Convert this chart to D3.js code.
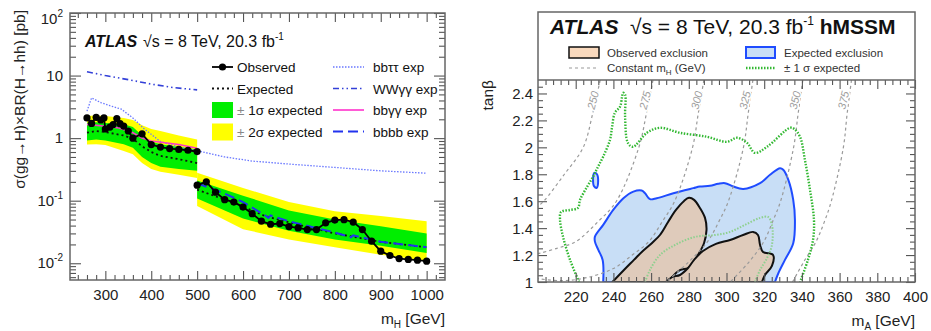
<!DOCTYPE html>
<html>
<head>
<meta charset="utf-8">
<script src="https://cdn.jsdelivr.net/npm/d3@7"></script>
<style>
  body { margin: 0; background: #fff; }
  svg text { font-family: "Liberation Sans", Arial, Helvetica, sans-serif; }
</style>
</head>
<body>
<svg id="chart" width="931" height="331"></svg>
<script>
// ---------- left panel: limits on sigma x BR (pb) vs m_H ----------
const lowMass  = [260, 280, 300, 340, 360, 380, 400, 420, 460, 500];
const lowExp   = [1.22, 1.3, 1.25, 1.1, 0.98, 0.74, 0.6, 0.52, 0.46, 0.4];
const low1sLo  = [0.92, 0.95, 0.92, 0.8, 0.7, 0.5, 0.4, 0.35, 0.32, 0.3];
const low1sHi  = [1.76, 1.8, 1.75, 1.66, 1.5, 1.1, 0.88, 0.8, 0.72, 0.66];
const low2sLo  = [0.79, 0.8, 0.78, 0.62, 0.55, 0.4, 0.32, 0.29, 0.26, 0.23];
const low2sHi  = [2.25, 2.3, 2.25, 2.1, 1.95, 1.6, 1.4, 1.3, 1.1, 0.95];

const highMass = [500, 600, 700, 800, 900, 1000];
const high1sLo = [0.108, 0.052, 0.033, 0.024, 0.019, 0.0146];
const high1sHi = [0.21, 0.12, 0.07, 0.05, 0.039, 0.03];
const high2sLo = [0.082, 0.035, 0.024, 0.018, 0.0137, 0.011];
const high2sHi = [0.28, 0.16, 0.095, 0.068, 0.057, 0.047];
const highExpMass = [500, 560, 600, 650, 700, 800, 900, 1000];
const highExp     = [0.15, 0.104, 0.08, 0.056, 0.045, 0.03, 0.022, 0.018];

const obsLowMass = [260, 270, 280, 290, 297, 300, 310, 317, 325, 332, 340, 350, 360, 380, 400, 420, 440, 460, 480, 500];
const obsLow     = [2.1, 1.72, 2.15, 1.95, 2.1, 1.4, 1.5, 1.65, 2.05, 1.7, 1.56, 1.3, 1.0, 1.17, 0.79, 0.72, 0.68, 0.66, 0.64, 0.61];
const obsHighMass = [500, 520, 540, 560, 580, 600, 620, 640, 660, 680, 700, 720, 740, 760, 780, 800, 820, 840, 860, 880, 900, 920, 940, 960, 980, 1000];
const obsHigh     = [0.177, 0.2, 0.137, 0.104, 0.095, 0.079, 0.062, 0.047, 0.042, 0.043, 0.0386, 0.0367, 0.0346, 0.0346, 0.0443, 0.049, 0.0497, 0.0455, 0.0346, 0.0225, 0.0156, 0.0133, 0.0119, 0.0115, 0.0112, 0.0108];

const bbttMass = [260, 270, 290, 310, 335, 360, 385, 400, 420, 460, 500, 560, 620, 700, 800, 900, 1000];
const bbtt     = [2.7, 4.4, 3.7, 3.3, 2.9, 2.1, 1.4, 1.15, 0.88, 0.72, 0.63, 0.5, 0.43, 0.385, 0.34, 0.3, 0.275];
const wwggMass = [260, 300, 350, 400, 450, 500];
const wwgg     = [11.5, 10, 8.6, 7.3, 6.4, 5.9];
const bbggMass = [260, 300, 330, 360, 380, 400, 460, 500];
const bbgg     = [1.66, 1.55, 1.45, 1.22, 1.0, 0.9, 0.79, 0.69];
const bbbbMass = [500, 560, 600, 650, 655, 660, 700, 750, 800, 835, 840, 900, 1000];
const bbbb     = [0.19, 0.13, 0.095, 0.057, 0.053, 0.058, 0.047, 0.038, 0.031, 0.026, 0.028, 0.022, 0.018];

const xTicksL = [300, 400, 500, 600, 700, 800, 900, 1000];
const yTicksL = [0.01, 0.1, 1, 10, 100];
const yTickExpL = ["-2", "-1", "", "", "2"];

// ---------- right panel: hMSSM exclusion in (m_A, tan beta) ----------
const expRegion = [[234.6,1.0],[234.3,1.164],[232.0,1.238],[230.2,1.30],[230.2,1.337],[234.6,1.424],[239.9,1.535],
  [245.3,1.622],[250.6,1.671],[255.0,1.679],[256.8,1.659],[259.4,1.615],[263.0,1.622],[271.8,1.659],[282.4,1.697],
  [285.9,1.709],[291.2,1.714],[295.6,1.729],[299.2,1.734],[303.6,1.709],[308.9,1.691],[317.8,1.734],[323.1,1.796],
  [328.4,1.845],[330.1,1.833],[332.8,1.758],[335.4,1.61],[336.3,1.461],[335.4,1.288],[331.0,1.164],[327.5,1.065],[325.7,1.0]];
const expIsland = [[229.2,1.76],[229.9,1.81],[231.3,1.80],[231.9,1.75],[231.2,1.70],[229.8,1.71]];
const obsRegion1 = [[239.5,1.0],[245.6,1.089],[250.9,1.164],[255.2,1.225],[260.5,1.29],[264.7,1.349],[269.0,1.446],
  [273.2,1.535],[277.5,1.602],[280.1,1.625],[282.8,1.61],[285.9,1.55],[288.6,1.476],[289.4,1.387],[288.1,1.29],
  [284.9,1.201],[282.2,1.141],[279.6,1.104],[275.3,1.089],[271.1,1.037],[269.5,1.0]];
const obsRegion2 = [[267.9,1.0],[271.1,1.037],[275.3,1.052],[279.6,1.104],[282.8,1.164],[287.5,1.23],[294.4,1.283],
  [301.9,1.312],[308.8,1.349],[314.1,1.372],[316.7,1.349],[317.8,1.275],[319.4,1.223],[324.7,1.201],[324.1,1.119],
  [320.4,1.052],[318.8,1.0]];
const sigmaOuter = [[221.8,1.0],[217.0,1.164],[213.3,1.335],[211.7,1.461],[212.2,1.52],[217.0,1.535],[221.2,1.55],
  [222.3,1.61],[226.0,1.706],[229.2,1.781],[231.8,1.855],[234.5,1.929],[238.2,2.056],[239.3,2.152],[240.8,2.257],
  [243.5,2.301],[244.6,2.375],[245.1,2.405],[246.2,2.39],[246.2,2.227],[247.7,2.033],[250.4,2.004],[257.8,2.108],
  [264.7,2.145],[275.3,2.108],[289.7,2.078],[300.3,2.041],[305.6,2.071],[310.9,2.033],[315.1,1.959],[321.5,2.004],
  [333.7,2.145],[335.8,2.138],[339.0,2.078],[341.6,1.907],[344.3,1.684],[346.4,1.461],[345.9,1.312],[343.2,1.164],[339.0,1.0]];
const sigmaInner = [[256.8,1.0],[259.4,1.089],[264.7,1.201],[272.7,1.275],[283.3,1.335],[293.9,1.349],[301.9,1.372],
  [309.8,1.424],[317.8,1.476],[322.0,1.483],[324.1,1.424],[324.1,1.275],[321.5,1.178],[317.8,1.089],[315.1,1.0]];

const mHLabels = ["250", "275", "300", "325", "350", "375"];
const mHCurves = [
  [[233,2.5],[229,2.25],[224,2.0],[214,1.8],[203,1.6],[199,1.55]],
  [[261,2.5],[257.5,2.25],[253.5,2.0],[241.6,1.6],[232,1.45],[220,1.3],[210,1.25],[200,1.21]],
  [[288,2.5],[285,2.25],[282,2.0],[272.5,1.6],[266,1.45],[258.8,1.3],[250,1.2],[240,1.1],[225,1.03],[212,1.01],[200,1.025]],
  [[314,2.5],[311.5,2.25],[309,2.0],[301,1.6],[296,1.45],[290,1.3],[280,1.15],[268,1.0]],
  [[340.5,2.5],[338,2.25],[335.6,2.0],[328.7,1.6],[324.5,1.45],[319.8,1.3],[312,1.15],[302,1.0]],
  [[366.3,2.5],[364,2.25],[362,2.0],[355.6,1.6],[352,1.45],[347.5,1.3],[341,1.15],[335,1.0]]
];
const mHLabelPos = [[229.2,2.35],[256.8,2.35],[284.2,2.35],[309.8,2.35],[336.3,2.35],[362,2.35]];

const xTicksR = [220, 240, 260, 280, 300, 320, 340, 360, 380, 400];
const yTicksR = [1, 1.2, 1.4, 1.6, 1.8, 2, 2.2, 2.4];

// ------------------------------------------------------------------
const svg = d3.select("#chart");
svg.append("rect").attr("width", 931).attr("height", 331).attr("fill", "#fff");
const tickCol = "#555";

function addAxis(g, fn, scale, vals, len, tr, fmt, fs) {
  const a = g.append("g").attr("transform", tr)
    .call(fn(scale).tickValues(vals).tickSizeInner(-len).tickSizeOuter(0).tickPadding(5)
      .tickFormat(fmt || (() => "")));
  a.attr("font-family", null).attr("font-size", null);
  a.select(".domain").remove();
  a.selectAll(".tick line").attr("stroke", tickCol).attr("stroke-width", 1.1);
  a.selectAll(".tick text").attr("fill", "#222").attr("font-size", fs || 15);
  return a;
}

// ===== LEFT =====
const L = { x0: 70, x1: 445, y0: 13, y1: 280 };
const xL = d3.scaleLinear().domain([223, 1040]).range([L.x0, L.x1]);
const yL = d3.scaleLog().domain([0.0054, 100]).range([L.y1, L.y0]);
const gL = svg.append("g");

function band(mass, lo, hi, color) {
  const rows = mass.map((m, i) => ({ m, lo: lo[i], hi: hi[i] }));
  gL.append("path").datum(rows).attr("fill", color).attr("stroke", "none")
    .attr("d", d3.area().x(d => xL(d.m)).y0(d => yL(d.lo)).y1(d => yL(d.hi)));
}
band(lowMass, low2sLo, low2sHi, "#ffff00");
band(highMass, high2sLo, high2sHi, "#ffff00");
band(lowMass, low1sLo, low1sHi, "#00ee00");
band(highMass, high1sLo, high1sHi, "#00ee00");

function curveL(mass, vals, color, width, dash) {
  const rows = mass.map((m, i) => [m, vals[i]]);
  return gL.append("path").datum(rows).attr("fill", "none").attr("stroke", color)
    .attr("stroke-width", width).attr("stroke-dasharray", dash)
    .attr("d", d3.line().x(d => xL(d[0])).y(d => yL(d[1])));
}
curveL(lowMass, lowExp, "#111", 1.8, "2,3");
curveL(highExpMass, highExp, "#111", 1.8, "2,3");
curveL(bbttMass, bbtt, "#6a78ff", 1.3, "1.5,1.5");
curveL(wwggMass, wwgg, "#3340d8", 1.6, "6,3,1.5,3,1.5,3");
curveL(bbggMass, bbgg, "#ff33cc", 1.6, null);
curveL(bbbbMass, bbbb, "#2233ee", 2, "10,5");

[[obsLowMass, obsLow], [obsHighMass, obsHigh]].forEach(([ms, vs]) => {
  curveL(ms, vs, "#000", 1.8, null);
  gL.append("g").selectAll("circle").data(ms.map((m, i) => [m, vs[i]])).join("circle")
    .attr("cx", d => xL(d[0])).attr("cy", d => yL(d[1])).attr("r", 3.6).attr("fill", "#000");
});

// axes (ROOT style: ticks inward on all sides)
const minorXL = d3.range(240, 1040, 20).filter(v => v % 100 !== 0);
const logMinor = [];
[0.001, 0.01, 0.1, 1, 10].forEach(d => { for (let k = 2; k <= 9; k++) { const v = k * d; if (v > 0.0054 && v < 100) logMinor.push(v); } });
addAxis(gL, d3.axisBottom, xL, xTicksL, 9, `translate(0,${L.y1})`, d => d, 15).selectAll("text").attr("dy", "1em");
addAxis(gL, d3.axisBottom, xL, minorXL, 5, `translate(0,${L.y1})`);
addAxis(gL, d3.axisTop, xL, xTicksL, 9, `translate(0,${L.y0})`);
addAxis(gL, d3.axisTop, xL, minorXL, 5, `translate(0,${L.y0})`);
addAxis(gL, d3.axisLeft, yL, yTicksL, 11, `translate(${L.x0},0)`);
addAxis(gL, d3.axisLeft, yL, logMinor, 6, `translate(${L.x0},0)`);
addAxis(gL, d3.axisRight, yL, yTicksL, 11, `translate(${L.x1},0)`);
addAxis(gL, d3.axisRight, yL, logMinor, 6, `translate(${L.x1},0)`);
gL.append("rect").attr("x", L.x0).attr("y", L.y0).attr("width", L.x1 - L.x0).attr("height", L.y1 - L.y0)
  .attr("fill", "none").attr("stroke", "#666").attr("stroke-width", 1.5);

yTicksL.forEach((v, i) => {
  const t = gL.append("text").attr("x", 63).attr("y", yL(v) + 5 + (v === 100 ? 6 : 0))
    .attr("text-anchor", "end").attr("font-size", 15).attr("fill", "#222");
  if (v === 1) { t.text("1"); return; }
  t.append("tspan").text("10");
  if (yTickExpL[i]) t.append("tspan").attr("font-size", 10).attr("dy", -7).text(yTickExpL[i]);
});

gL.append("text").attr("transform", "translate(25,10) rotate(-90)").attr("text-anchor", "end")
  .attr("font-size", 15.5).attr("fill", "#222").text("σ(gg→H)×BR(H→hh) [pb]");
const xtL = gL.append("text").attr("x", L.x1).attr("y", 324).attr("text-anchor", "end").attr("font-size", 15.5).attr("fill", "#222");
xtL.append("tspan").text("m");
xtL.append("tspan").attr("font-size", 10).attr("dy", 4).text("H");
xtL.append("tspan").attr("dy", -4).text(" [GeV]");

gL.append("text").attr("x", 85).attr("y", 47).attr("font-size", 16).attr("font-weight", "bold")
  .attr("font-style", "italic").attr("fill", "#111").text("ATLAS");
const sL = gL.append("text").attr("x", 143).attr("y", 47).attr("font-size", 16).attr("fill", "#111");
sL.append("tspan").text("√s = 8 TeV, 20.3 fb");
sL.append("tspan").attr("font-size", 10).attr("dy", -7).text("-1");

// left legend
const legRows = [67, 88.5, 110, 131.5];
const lg = gL.append("g");
lg.append("line").attr("x1", 212).attr("x2", 233).attr("y1", legRows[0]).attr("y2", legRows[0]).attr("stroke", "#000").attr("stroke-width", 1.8);
lg.append("circle").attr("cx", 222.5).attr("cy", legRows[0]).attr("r", 3.6).attr("fill", "#000");
lg.append("line").attr("x1", 212).attr("x2", 233).attr("y1", legRows[1]).attr("y2", legRows[1]).attr("stroke", "#111").attr("stroke-width", 1.8).attr("stroke-dasharray", "2,3");
lg.append("rect").attr("x", 212).attr("y", legRows[2] - 8).attr("width", 21).attr("height", 16).attr("fill", "#00ee00");
lg.append("rect").attr("x", 212).attr("y", legRows[3] - 8).attr("width", 21).attr("height", 17).attr("fill", "#ffff00");
const legL = [["Observed", null], ["Expected", null], ["1σ expected", "±"], ["2σ expected", "±"]];
legL.forEach((d, i) => {
  const t = lg.append("text").attr("x", 237).attr("y", legRows[i] + 5).attr("font-size", 13.5).attr("fill", "#111");
  if (d[1]) t.append("tspan").attr("fill", "#888").text("± ");
  t.append("tspan").text(d[0]);
});
const legStyles = [["#6a78ff", 1.3, "1.5,1.5"], ["#3340d8", 1.6, "6,3,1.5,3,1.5,3"], ["#ff33cc", 1.6, null], ["#2233ee", 2, "10,5"]];
const legR = ["bbττ exp", "WWγγ exp", "bbγγ exp", "bbbb exp"];
legR.forEach((name, i) => {
  lg.append("line").attr("x1", 333).attr("x2", 364).attr("y1", legRows[i]).attr("y2", legRows[i])
    .attr("stroke", legStyles[i][0]).attr("stroke-width", legStyles[i][1]).attr("stroke-dasharray", legStyles[i][2]);
  lg.append("text").attr("x", 373).attr("y", legRows[i] + 5).attr("font-size", 13.5).attr("fill", "#111").text(name);
});

// ===== RIGHT =====
const R = { x0: 538, x1: 915, y0: 80, y1: 282, top: 12 };
const xR = d3.scaleLinear().domain([200, 400]).range([R.x0, R.x1]);
const yR = d3.scaleLinear().domain([1, 2.5]).range([R.y1, R.y0]);
const gR = svg.append("g");
gR.append("clipPath").attr("id", "clipR").append("rect")
  .attr("x", R.x0).attr("y", R.y0).attr("width", R.x1 - R.x0).attr("height", R.y1 - R.y0);
const plotR = gR.append("g").attr("clip-path", "url(#clipR)");

const smooth = d3.line().x(d => xR(d[0])).y(d => yR(d[1])).curve(d3.curveCatmullRom.alpha(0.5));
const closed = d3.line().x(d => xR(d[0])).y(d => yR(d[1])).curve(d3.curveCatmullRomClosed.alpha(0.5));

plotR.append("path").datum(expRegion).attr("d", d => smooth(d) + "Z")
  .attr("fill", "#c8def6").attr("stroke", "#1f4cff").attr("stroke-width", 2);
[obsRegion1, obsRegion2].forEach(reg => {
  plotR.append("path").datum(reg).attr("d", d => smooth(d) + "Z")
    .attr("fill", "#dfcbbb").attr("stroke", "#111").attr("stroke-width", 2);
});
plotR.append("path").datum(expIsland).attr("d", closed)
  .attr("fill", "#c8def6").attr("stroke", "#1f4cff").attr("stroke-width", 2);

mHCurves.forEach(c => {
  plotR.append("path").datum(c).attr("d", smooth).attr("fill", "none")
    .attr("stroke", "#9a9a9a").attr("stroke-width", 1.2).attr("stroke-dasharray", "3,3");
});
plotR.append("path").datum(sigmaInner).attr("d", smooth).attr("fill", "none")
  .attr("stroke", "#8fd08f").attr("stroke-width", 2).attr("stroke-dasharray", "1.5,1.5");
plotR.append("path").datum(sigmaOuter).attr("d", smooth).attr("fill", "none")
  .attr("stroke", "#33b833").attr("stroke-width", 2.4).attr("stroke-dasharray", "1.5,1.5");

mHLabelPos.forEach((p, i) => {
  plotR.append("text").attr("transform", `translate(${xR(p[0])},${yR(p[1])}) rotate(-76)`)
    .attr("text-anchor", "middle").attr("dy", "0.35em").attr("font-size", 11).attr("font-style", "italic")
    .attr("fill", "#a0a0a0").attr("stroke", "#fff").attr("stroke-width", 3).attr("paint-order", "stroke")
    .text(mHLabels[i]);
});

const minorXR = d3.range(204, 400, 4).filter(v => v % 20 !== 0);
const minorYR = d3.range(1.05, 2.5, 0.05).map(v => +v.toFixed(2)).filter(v => Math.abs(v * 5 - Math.round(v * 5)) > 1e-6);
const fmtR = d => String(+d.toFixed(1));
addAxis(gR, d3.axisBottom, xR, xTicksR, 9, `translate(0,${R.y1})`, fmtR, 15).selectAll("text").attr("dy", "1em");
addAxis(gR, d3.axisBottom, xR, minorXR, 5, `translate(0,${R.y1})`);
addAxis(gR, d3.axisTop, xR, xTicksR, 9, `translate(0,${R.y0})`);
addAxis(gR, d3.axisTop, xR, minorXR, 5, `translate(0,${R.y0})`);
addAxis(gR, d3.axisLeft, yR, yTicksR, 9, `translate(${R.x0},0)`, fmtR, 15).selectAll("text").attr("dy", "0.36em");
addAxis(gR, d3.axisLeft, yR, minorYR, 5, `translate(${R.x0},0)`);
addAxis(gR, d3.axisRight, yR, yTicksR, 9, `translate(${R.x1},0)`);
addAxis(gR, d3.axisRight, yR, minorYR, 5, `translate(${R.x1},0)`);
gR.append("rect").attr("x", R.x0).attr("y", R.top).attr("width", R.x1 - R.x0).attr("height", R.y1 - R.top)
  .attr("fill", "none").attr("stroke", "#666").attr("stroke-width", 1.5);
gR.append("line").attr("x1", R.x0).attr("x2", R.x1).attr("y1", R.y0).attr("y2", R.y0)
  .attr("stroke", "#666").attr("stroke-width", 1.5);

gR.append("text").attr("transform", `translate(493,${R.y0}) rotate(-90)`).attr("text-anchor", "end")
  .attr("font-size", 15.5).attr("fill", "#222").text("tanβ");
const xtR = gR.append("text").attr("x", R.x1).attr("y", 326).attr("text-anchor", "end").attr("font-size", 15.5).attr("fill", "#222");
xtR.append("tspan").text("m");
xtR.append("tspan").attr("font-size", 10).attr("dy", 4).text("A");
xtR.append("tspan").attr("dy", -4).text(" [GeV]");

gR.append("text").attr("x", 550).attr("y", 34).attr("font-size", 21).attr("font-weight", "bold")
  .attr("font-style", "italic").attr("fill", "#111").text("ATLAS");
const hR = gR.append("text").attr("x", 630).attr("y", 34).attr("font-size", 21).attr("fill", "#111");
hR.append("tspan").text("√s = 8 TeV, 20.3 fb");
hR.append("tspan").attr("font-size", 12).attr("dy", -9).text("-1");
hR.append("tspan").attr("dy", 9).attr("font-weight", "bold").text(" hMSSM");

// right legend
const lr = gR.append("g");
lr.append("rect").attr("x", 569).attr("y", 47).attr("width", 30).attr("height", 11)
  .attr("fill", "#f9d9bd").attr("stroke", "#111").attr("stroke-width", 1.5);
lr.append("rect").attr("x", 746).attr("y", 47).attr("width", 29).attr("height", 11)
  .attr("fill", "#c8def6").attr("stroke", "#1f4cff").attr("stroke-width", 2);
lr.append("line").attr("x1", 569).attr("x2", 599).attr("y1", 68).attr("y2", 68)
  .attr("stroke", "#9a9a9a").attr("stroke-width", 1.2).attr("stroke-dasharray", "3,3");
lr.append("line").attr("x1", 746).attr("x2", 775).attr("y1", 68).attr("y2", 68)
  .attr("stroke", "#33b833").attr("stroke-width", 2.4).attr("stroke-dasharray", "1.5,1.5");
lr.append("text").attr("x", 607).attr("y", 57).attr("font-size", 11.5).attr("fill", "#333").text("Observed exclusion");
lr.append("text").attr("x", 784).attr("y", 57).attr("font-size", 11.5).attr("fill", "#333").text("Expected exclusion");
const cm = lr.append("text").attr("x", 607).attr("y", 72).attr("font-size", 11.5).attr("fill", "#333");
cm.append("tspan").text("Constant m");
cm.append("tspan").attr("font-size", 8).attr("dy", 3).text("H");
cm.append("tspan").attr("dy", -3).text(" (GeV)");
lr.append("text").attr("x", 784).attr("y", 72).attr("font-size", 11.5).attr("fill", "#333").text("± 1 σ expected");
</script>
</body>
</html>
